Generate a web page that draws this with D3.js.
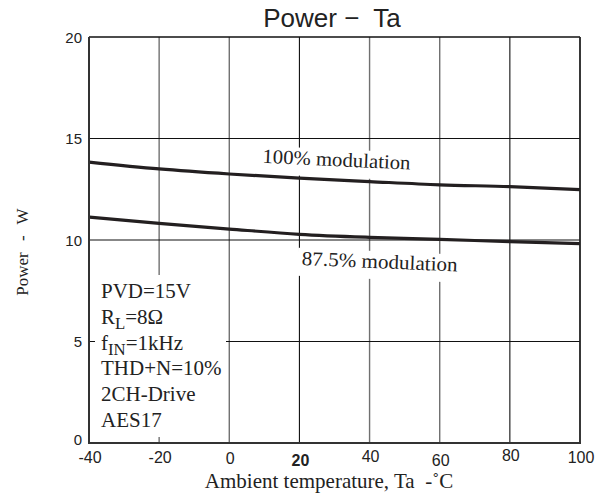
<!DOCTYPE html>
<html lang="en">
<head>
<meta charset="UTF-8">
<title>Power - Ta</title>
<script src="https://d3js.org/d3.v7.min.js"></script>
<style>
  body { margin: 0; background: #fff; }
  svg { display: block; }
</style>
</head>
<body>
<svg id="main" width="603" height="499"></svg>
<script>
// data
let temps = [-40, -20, 0, 20, 40, 60, 80, 100];
let power100 = [13.84, 13.5, 13.25, 13.05, 12.88, 12.72, 12.63, 12.48];
let power875 = [11.13, 10.82, 10.54, 10.28, 10.13, 10.03, 9.92, 9.82];
let xTicks = [-40, -20, 0, 20, 40, 60, 80, 100];
let yTicks = [0, 5, 10, 15, 20];
let conditions = ["PVD=15V", "R|L|=8Ω", "f|IN|=1kHz", "THD+N=10%", "2CH-Drive", "AES17"];

let plotL = 89, plotR = 580, plotT = 37, plotB = 443;
let serif = "'Liberation Serif', 'Times New Roman', serif";
let sans = "'Liberation Sans', Arial, sans-serif";

let svg = d3.select('svg#main');

let x = d3.scaleLinear().domain([-40, 100]).range([plotL, plotR]);
let y = d3.scaleLinear().domain([0, 20]).range([plotB, plotT]);

// grid lines
let grayX = [-20, 0, 40, 60];
svg.append('g').selectAll('line')
    .data(xTicks.slice(1, -1))
    .join('line')
    .attr('x1', d => x(d)).attr('x2', d => x(d))
    .attr('y1', plotT).attr('y2', plotB)
    .attr('stroke', d => grayX.includes(d) ? '#707070' : '#111')
    .attr('stroke-width', d => grayX.includes(d) ? 1.4 : 1.1);

svg.append('g').selectAll('line')
    .data(yTicks.slice(1, -1))
    .join('line')
    .attr('x1', plotL).attr('x2', plotR)
    .attr('y1', d => y(d)).attr('y2', d => y(d))
    .attr('stroke', '#111')
    .attr('stroke-width', 1.1);

// conditions block (white backing hides the grid)
let block = svg.append('g');
block.append('rect')
    .attr('x', 95).attr('y', 275).attr('width', 131).attr('height', 162)
    .attr('fill', '#fff');
let blockText = block.append('g').attr('transform', 'translate(101,0) scale(1.05,1)');
conditions.forEach(function(c, i) {
    let parts = c.split('|');
    let t = blockText.append('text')
        .attr('x', 0).attr('y', 298 + i * 25.8)
        .attr('font-family', serif).attr('font-size', 20).attr('fill', '#222');
    t.append('tspan').text(parts[0]);
    if (parts.length > 1) {
        t.append('tspan').attr('dy', 5).attr('font-size', 16).text(parts[1]);
        t.append('tspan').attr('dy', -5).text(parts[2]);
    }
});

// curve labels
function curveLabel(txt, tx, ty, angle, len) {
    let g = svg.append('g')
        .attr('transform', 'translate(' + x(tx) + ',' + y(ty) + ') rotate(' + angle + ')');
    let bg = g.append('rect').attr('fill', '#fff');
    let t = g.append('text')
        .attr('font-family', serif).attr('font-size', 20).attr('fill', '#222')
        .attr('textLength', len).attr('lengthAdjust', 'spacingAndGlyphs')
        .text(txt);
    let b = t.node().getBBox();
    bg.attr('x', b.x - 4).attr('y', b.y + 1).attr('width', b.width + 8).attr('height', b.height + 6);
}
curveLabel('100% modulation', 9.4, 13.8, 2.6, 148);
curveLabel('87.5% modulation', 20.6, 8.77, 2.4, 156);

// curves
let line = d3.line()
    .x((d, i) => x(temps[i]))
    .y(d => y(d))
    .curve(d3.curveMonotoneX);

svg.selectAll('path.curve')
    .data([power100, power875])
    .join('path')
    .attr('class', 'curve')
    .attr('d', line)
    .attr('fill', 'none')
    .attr('stroke', '#231f20')
    .attr('stroke-width', 3.2);

// frame
svg.append('line').attr('x1', plotL).attr('x2', plotR).attr('y1', plotT).attr('y2', plotT)
    .attr('stroke', '#111').attr('stroke-width', 1.5);
svg.append('line').attr('x1', plotR).attr('x2', plotR).attr('y1', plotT).attr('y2', plotB)
    .attr('stroke', '#222').attr('stroke-width', 1.8);
svg.append('line').attr('x1', plotL).attr('x2', plotL).attr('y1', plotT).attr('y2', plotB + 1)
    .attr('stroke', '#333').attr('stroke-width', 2);
svg.append('line').attr('x1', plotL - 1).attr('x2', plotR + 1).attr('y1', plotB).attr('y2', plotB)
    .attr('stroke', '#333').attr('stroke-width', 2);

// y tick labels
svg.append('g').selectAll('text')
    .data(yTicks)
    .join('text')
    .attr('x', plotL - 7)
    .attr('y', d => d === 0 ? y(d) + 2 : y(d) + 5.5)
    .attr('text-anchor', 'end')
    .attr('font-family', sans).attr('font-size', 15).attr('fill', '#222')
    .text(d => d);

// x tick labels (slightly uneven in the original)
let xShift = [0, 0, 1, 2.5, -0.7, 2.5, -2.4, 0.3];
svg.append('g').selectAll('text')
    .data(xTicks)
    .join('text')
    .attr('x', d => x(d) + 1)
    .attr('y', (d, i) => plotB + 20 + xShift[i])
    .attr('text-anchor', 'middle')
    .attr('font-family', sans).attr('font-size', 16).attr('fill', '#222')
    .attr('font-weight', d => d === 20 ? 'bold' : 'normal')
    .text(d => d);

// titles
svg.append('text')
    .attr('x', 332).attr('y', 27)
    .attr('text-anchor', 'middle')
    .attr('font-family', sans).attr('font-size', 26).attr('fill', '#222')
    .attr('xml:space', 'preserve')
    .text('Power \u2212  Ta');

svg.append('text')
    .attr('x', 329).attr('y', 488)
    .attr('text-anchor', 'middle')
    .attr('font-family', serif).attr('font-size', 21).attr('fill', '#222')
    .attr('xml:space', 'preserve')
    .text('Ambient temperature, Ta  -\u02DAC');

svg.append('text')
    .attr('transform', 'translate(28,252) rotate(-90)')
    .attr('text-anchor', 'middle')
    .attr('font-family', serif).attr('font-size', 17).attr('fill', '#222')
    .style('word-spacing', '7px')
    .text('Power - W');
</script>
</body>
</html>
